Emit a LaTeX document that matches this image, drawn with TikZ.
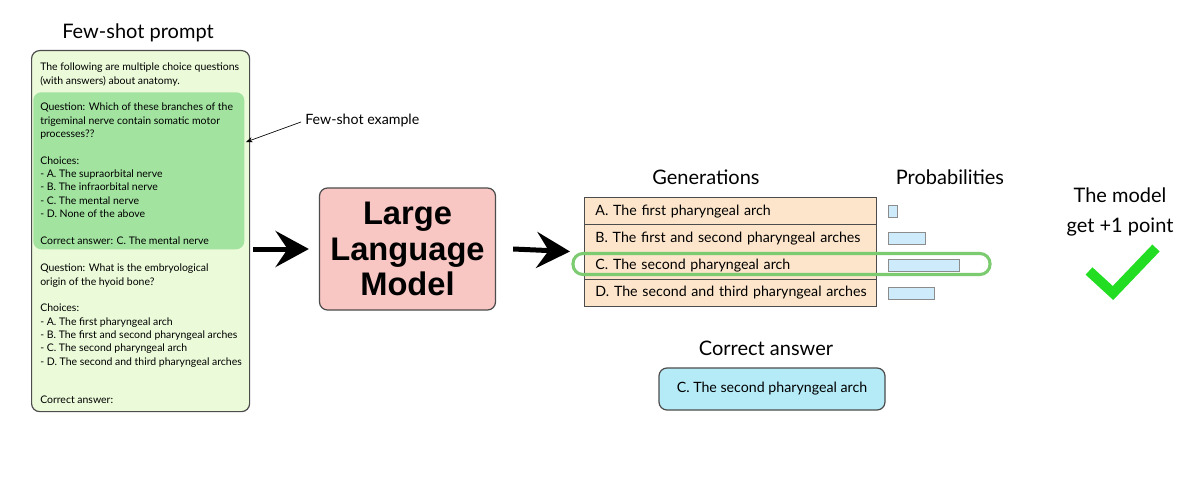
\documentclass[tikz,border=0pt]{standalone}
\usepackage{fontspec}
\setmainfont{Lato}
\newfontfamily\heavyfont{Liberation Sans}
\usetikzlibrary{arrows.meta,positioning,calc}
\def\pu{0.75pt}
\definecolor{promptfill}{HTML}{EBFAD9}
\definecolor{examplefill}{HTML}{A2E3A0}
\definecolor{llmfill}{HTML}{F8C6C3}
\definecolor{genfill}{HTML}{FCE5CA}
\definecolor{barfill}{HTML}{CDEBFA}
\definecolor{ansfill}{HTML}{B4EBF7}
\definecolor{pickgreen}{HTML}{7DCB70}
\definecolor{tickgreen}{HTML}{22DD22}
\tikzset{
	roundbox/.style={draw=black!70, line width=0.9pt, rounded corners=8*\pu, inner sep=0pt},
	prompttext/.style={anchor=north west, align=left, inner sep=0pt, font=\fontsize{7.85}{10}\selectfont},
	title/.style={font=\fontsize{15}{18}\selectfont},
	genrow/.style={draw=black!70, line width=0.7pt, fill=genfill, anchor=north west, minimum width=292*\pu, minimum height=27.25*\pu, inner sep=0pt, text width=290*\pu, align=left, font=\fontsize{10.65}{12}\selectfont, execute at begin node={\hspace*{7.5pt}}},
	bar/.style={draw=black!45, line width=0.5pt, fill=barfill, anchor=west, minimum height=12*\pu, inner sep=0pt},
	bigarrow/.style={line width=3.75pt, -{Stealth[length=25pt, width=27pt, inset=9pt]}}
}

\begin{document}
\begin{tikzpicture}[x=0.75pt, y=-0.75pt]
		%%%%% START %%%%%
		\useasboundingbox[fill=white] (0,0) rectangle (1200,485);
		
		% few-shot prompt
		\node[title] (prompttitle) at (138,33) {Few-shot prompt};
		\node[roundbox, fill=promptfill, anchor=north west, minimum width=218*\pu, minimum height=361*\pu] (prompt) at (31,50) {};
		\node[fill=examplefill, rounded corners=8*\pu, anchor=north west, minimum width=211*\pu, minimum height=157*\pu] (example) at (33,92) {};
		
		\node[prompttext] (intro) at (40,63) {The following are multiple choice questions\\(with answers) about anatomy.};
		\node[prompttext] (shot) at (40,103) {Question: Which of these branches of the\\trigeminal nerve contain somatic motor\\processes??\\[10pt]Choices:\\- A. The supraorbital nerve\\- B. The infraorbital nerve\\- C. The mental nerve\\- D. None of the above\\[10pt]Correct answer: C. The mental nerve};
		\node[prompttext] (query) at (40,264) {Question: What is the embryological\\origin of the hyoid bone?\\[10pt]Choices:\\- A. The first pharyngeal arch\\- B. The first and second pharyngeal arches\\- C. The second pharyngeal arch\\- D. The second and third pharyngeal arches};
		\node[prompttext] (ask) at (40,396) {Correct answer:};
		
		\node[anchor=west, inner sep=0pt, font=\fontsize{10.65}{12}\selectfont] (fewlabel) at (305,120) {Few-shot example};
		\coordinate (fewtip) at (246,142);
		\draw[line width=0.5pt, -{Stealth[length=5pt, width=4pt]}] ([xshift=-4*\pu, yshift=-2*\pu]fewlabel.west) -- (fewtip);
		
		% model
		\node[roundbox, fill=llmfill, minimum width=176*\pu, minimum height=122*\pu, align=center, font=\heavyfont\bfseries\fontsize{24.5}{26.5}\selectfont] (llm) at (407.5,249) {Large\\Language\\Model};
		\draw[bigarrow] (llm.west -| prompt.east) ++(3*\pu,0) -- ([xshift=-10*\pu]llm.west);
		
		% generations
		\node[title] (gentitle) at (706,177) {Generations};
		\node[title] (probtitle) at (950,177) {Probabilities};
		\foreach \lab/\txt [count=\i] in {A/{A. The first pharyngeal arch}, B/{B. The first and second pharyngeal arches}, C/{C. The second pharyngeal arch}, D/{D. The second and third pharyngeal arches}}
		{
			\node[genrow] (g\lab) at (584,{197+27.25*(\i-1)}) {\txt};
		}
		\draw[bigarrow] ([xshift=17*\pu]llm.east) -- ([xshift=-14*\pu]gC.north west);
		
		\coordinate (barstart) at (888,0);
		\foreach \lab/\len in {A/9, B/37, C/71, D/46}
		{
			\node[bar, minimum width=\len*\pu] (p\lab) at (g\lab.east -| barstart) {};
		}
		
		\node[draw=pickgreen, line width=2.3pt, rounded corners=10*\pu, minimum width=417*\pu, minimum height=21*\pu, inner sep=0pt] (pick) at (781.5,264) {};
		
		% correct answer
		\node[title] (anstitle) at (766,348) {Correct answer};
		\node[roundbox, fill=ansfill, minimum width=226*\pu, minimum height=42*\pu, font=\fontsize{10.65}{12}\selectfont] (answer) at (772,389) {C. The second pharyngeal arch};
		
		% score
		\node[title, align=center, font=\fontsize{15}{22}\selectfont] (score) at (1120,212) {The model\\get +1 point};
		\draw[tickgreen, line width=7.5pt] (1089,271) -- (1113,293) -- (1156,248);
		
		%%%%% END %%%%%
\end{tikzpicture}
\end{document}
